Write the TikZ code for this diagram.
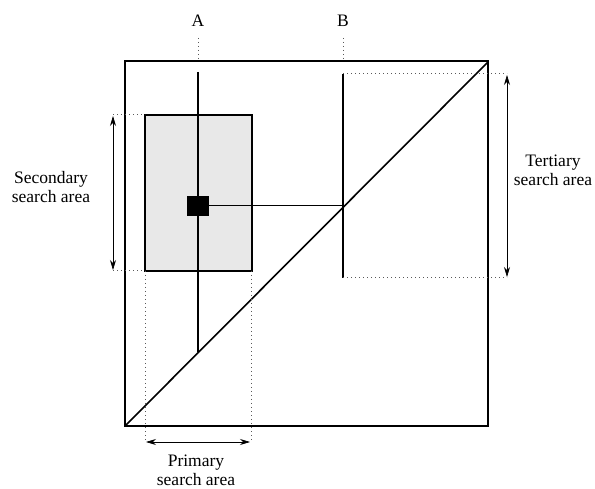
\documentclass[tikz,border=0pt]{standalone}
\usepackage{fontspec}
\setmainfont{Liberation Serif}
\usepackage{tikz}
\usetikzlibrary{arrows.meta}

\tikzset{
  guide/.style={dash pattern=on 1.2pt off 2.8pt, line width=1pt, black!65},
  lbl/.style={align=center, font=\fontsize{17.5}{19}\selectfont},
  span/.style={{Stealth[length=10pt,width=6pt]}-{Stealth[length=10pt,width=6pt]}, line width=0.7pt}
}

\begin{document}
\begin{tikzpicture}[x=1pt,y=-1pt]
            \useasboundingbox (0,0) rectangle (595,489);
            % frame and diagonal
            \draw[line width=1.6pt] (125,61) rectangle (488,426);
            \draw[line width=1.6pt] (125,426) -- (488,62);

            % secondary search area
            \draw[fill=gray!18, line width=1.3pt] (145,115) rectangle (252,271);
            \draw[guide] (113,115) -- (145,115);
            \draw[guide] (113,271) -- (145,271);
            \draw[span] (113,116) -- (113,270);
            \node[lbl] (sec) at (51,187) {Secondary\\search area};

            % column A
            \node[lbl] (a) at (198,21) {A};
            \draw[guide] (198,38) -- (198,61);
            \draw[line width=1.1pt] (198,72) -- (198,352);
            \draw[fill=black] (187,196) rectangle (208,215);
            \draw[line width=0.6pt] (208,205) -- (343,205);

            % column B
            \node[lbl] (b) at (343,21) {B};
            \draw[guide] (343,38) -- (343,61);
            \draw[line width=1.3pt] (343,74) -- (343,278);

            % tertiary search area
            \draw[guide] (343,74) -- (507,74);
            \draw[guide] (343,278) -- (507,278);
            \draw[span] (507,75) -- (507,277);
            \node[lbl] (ter) at (553,170) {Tertiary\\search area};

            % primary search area
            \draw[guide] (145,271) -- (145,442);
            \draw[guide] (251,271) -- (251,442);
            \draw[span] (146,442) -- (250,442);
            \node[lbl] (pri) at (196,470) {Primary\\search area};
         \end{tikzpicture}
\end{document}
